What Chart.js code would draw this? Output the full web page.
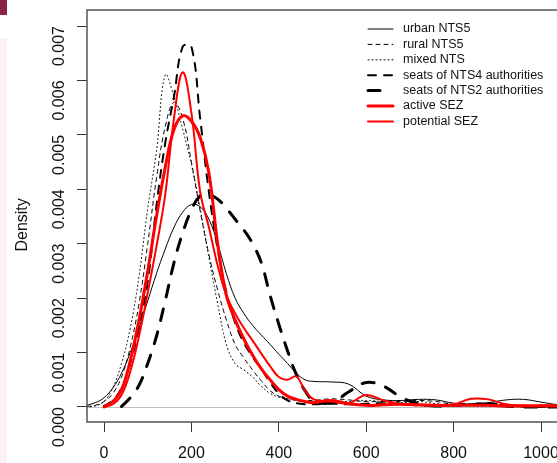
<!DOCTYPE html>
<html>
<head>
<meta charset="utf-8">
<script src="https://cdn.jsdelivr.net/npm/chart.js@4.4.0/dist/chart.umd.min.js"></script>
<style>
  html, body { margin: 0; padding: 0; background: #fff; overflow: hidden; width: 557px; height: 463px; }
  #wrap { position: relative; width: 557px; height: 463px; overflow: hidden; }
  #tab { position: absolute; left: 0; top: 0; width: 7px; height: 15px; background: #8c2341; }
  #strip { position: absolute; left: 0; top: 38px; width: 7px; height: 425px; background: #fcf0f3; }
  canvas { position: absolute; left: 0; top: 0; }
</style>
</head>
<body>
<div id="wrap">
  <div id="tab"></div>
  <div id="strip"></div>
  <canvas id="densityChart" width="600" height="463"></canvas>
</div>
<script>
/* density curves, values (density x 1000) */

const xGrid = [-40, -20, 0, 20, 40, 60, 80, 100, 120, 140, 160, 180, 200, 220, 240, 260, 280, 300, 320, 340,
  360, 380, 400, 420, 440, 460, 480, 520, 560, 600, 640, 680, 720, 760, 800, 840, 880, 920, 960, 1000, 1040, 1080];

const urbanNTS5 = [0.03, 0.08, 0.17, 0.35, 0.62, 1.0, 1.45, 1.95, 2.45, 2.9, 3.3, 3.58, 3.72, 3.68, 3.45, 3.0, 2.45, 2.0, 1.72, 1.5,
  1.32, 1.15, 0.97, 0.8, 0.62, 0.5, 0.47, 0.46, 0.42, 0.2, 0.13, 0.12, 0.14, 0.13, 0.07, 0.05, 0.08, 0.13, 0.14, 0.09, 0.04, 0.02];

const ruralNTS5 = [0.01, 0.03, 0.1, 0.25, 0.55, 1.1, 1.9, 3.0, 4.2, 5.15, 5.6, 5.3, 4.5, 3.6, 2.8, 2.15, 1.6, 1.15, 0.9, 0.68,
  0.48, 0.3, 0.2, 0.15, 0.13, 0.12, 0.12, 0.15, 0.13, 0.1, 0.1, 0.1, 0.12, 0.1, 0.05, 0.06, 0.04, 0.02, 0.01, 0.01, 0.0, 0.0];

const mixedNTS = [0.0, 0.02, 0.1, 0.35, 0.8, 1.45, 2.4, 3.65, 4.7, 6.1, 5.7, 5.1, 4.45, 3.65, 2.75, 1.9, 1.15, 0.8, 0.68, 0.55,
  0.38, 0.25, 0.18, 0.14, 0.12, 0.1, 0.1, 0.12, 0.1, 0.12, 0.1, 0.08, 0.1, 0.06, 0.03, 0.02, 0.01, 0.01, 0.0, 0.0, 0.0, 0.0];

const seatsNTS4 = [null, null, 0.02, 0.12, 0.35, 0.8, 1.45, 2.3, 3.7, 4.85, 5.7, 6.62, 6.62, 5.3, 3.95, 2.9, 2.1, 1.55, 1.18, 0.92,
  0.7, 0.45, 0.25, 0.12, 0.07, 0.05, 0.05, 0.06, 0.05, 0.06, 0.07, 0.06, 0.03, 0.02, 0.02, 0.05, 0.07, 0.04, 0.01, 0.0, 0.0, 0.0];

const seatsNTS2 = [null, null, null, null, 0.01, 0.17, 0.4, 0.8, 1.3, 1.95, 2.65, 3.2, 3.62, 3.88, 3.9, 3.82, 3.65, 3.45, 3.25, 3.0,
  2.65, 2.05, 1.52, 1.03, 0.6, 0.3, 0.12, 0.08, 0.28, 0.45, 0.38, 0.18, 0.06, 0.02, 0.03, 0.05, 0.05, 0.02, 0.0, 0.0, 0.0, 0.0];

const activeSEZ = [null, null, 0.0, 0.1, 0.32, 0.85, 1.6, 2.5, 3.5, 4.4, 5.1, 5.35, 5.25, 4.95, 4.3, 3.0, 2.05, 1.6, 1.25, 0.95,
  0.7, 0.5, 0.32, 0.2, 0.14, 0.1, 0.08, 0.12, 0.06, 0.03, 0.04, 0.05, 0.04, 0.03, 0.03, 0.03, 0.03, 0.02, 0.02, 0.02, 0.02, 0.02];

const potentialSEZ = [null, null, 0.0, 0.05, 0.22, 0.65, 1.3, 2.1, 2.95, 3.9, 5.3, 6.15, 5.4, 3.95, 3.3, 2.6, 2.05, 1.72, 1.45, 1.22,
  0.98, 0.75, 0.55, 0.5, 0.56, 0.3, 0.14, 0.1, 0.07, 0.22, 0.12, 0.05, 0.03, 0.03, 0.05, 0.15, 0.14, 0.05, 0.03, 0.03, 0.03, 0.03];

const seriesLabels = ['urban NTS5', 'rural NTS5', 'mixed NTS', 'seats of NTS4 authorities',
  'seats of NTS2 authorities', 'active SEZ', 'potential SEZ'];

const xTicks = [0, 200, 400, 600, 800, 1000];
const yTicks = [0, 0.001, 0.002, 0.003, 0.004, 0.005, 0.006, 0.007];

const FONT = '"Liberation Sans", Arial, Helvetica, sans-serif';

function toPoints(ys) {
  return xGrid.map((x, i) => ({ x: x, y: ys[i] == null ? null : ys[i] / 1000 }));
}

function line(label, ys, color, width, dash, order) {
  return {
    label: label, data: toPoints(ys), borderColor: color, backgroundColor: color,
    borderWidth: width, borderDash: dash, borderCapStyle: 'round', borderJoinStyle: 'round',
    pointRadius: 0, tension: 0.4, fill: false, spanGaps: false, order: order
  };
}

const datasets = [
  line(seriesLabels[0], urbanNTS5, '#000', 1, [], 7),
  line(seriesLabels[1], ruralNTS5, '#000', 1, [4, 4], 6),
  line(seriesLabels[2], mixedNTS, '#000', 1, [1, 3], 5),
  line(seriesLabels[3], seatsNTS4, '#000', 2, [8, 8], 4),
  line(seriesLabels[4], seatsNTS2, '#000', 3, [12, 12], 3),
  line(seriesLabels[5], activeSEZ, '#ff0000', 3, [], 2),
  line(seriesLabels[6], potentialSEZ, '#ff0000', 2, [], 1)
];

/* gray zero line like abline(h=0) */
const zeroLine = {
  id: 'zeroLine',
  beforeDatasetsDraw(chart) {
    const { ctx, chartArea, scales } = chart;
    const y = Math.round(scales.y.getPixelForValue(0)) + 0.5;
    ctx.save();
    ctx.strokeStyle = '#bebebe';
    ctx.lineWidth = 1;
    ctx.beginPath();
    ctx.moveTo(chartArea.left, y);
    ctx.lineTo(chartArea.right, y);
    ctx.stroke();
    ctx.restore();
  }
};

/* box around plot region */
const plotBox = {
  id: 'plotBox',
  afterDatasetsDraw(chart) {
    const { ctx, chartArea } = chart;
    ctx.save();
    ctx.strokeStyle = '#555';
    ctx.lineWidth = 1.5;
    ctx.strokeRect(chartArea.left, chartArea.top, chartArea.right - chartArea.left, chartArea.bottom - chartArea.top);
    ctx.restore();
  }
};

/* R style legend, no frame, top right */
const rLegend = {
  id: 'rLegend',
  afterDraw(chart) {
    const ctx = chart.ctx;
    const x0 = 368, x1 = 393, tx = 403, top = 29, step = 15.4;
    ctx.save();
    ctx.font = '12.5px ' + FONT;
    ctx.textBaseline = 'middle';
    ctx.textAlign = 'left';
    chart.data.datasets.forEach((ds, i) => {
      const y = top + i * step;
      ctx.strokeStyle = ds.borderColor;
      ctx.lineWidth = ds.borderWidth;
      ctx.lineCap = 'round';
      ctx.setLineDash(ds.borderDash);
      ctx.beginPath();
      ctx.moveTo(x0, y);
      ctx.lineTo(ds.borderWidth === 3 && ds.borderDash.length ? x0 + 12 : x1, y);
      ctx.stroke();
      ctx.setLineDash([]);
      ctx.fillStyle = '#111';
      ctx.fillText(ds.label, tx, y);
    });
    ctx.restore();
  }
};

new Chart(document.getElementById('densityChart'), {
  type: 'line',
  data: { datasets: datasets },
  plugins: [zeroLine, plotBox, rLegend],
  options: {
    responsive: false,
    devicePixelRatio: 1,
    animation: false,
    layout: { padding: { top: 10, right: 0, bottom: 0, left: 0 } },
    plugins: { legend: { display: false }, tooltip: { enabled: false } },
    scales: {
      x: {
        type: 'linear', min: -39, max: 1135,
        afterBuildTicks: s => { s.ticks = xTicks.map(v => ({ value: v })); },
        afterFit: s => { s.height = 41; s.paddingLeft = 0; s.paddingRight = 0; s.paddingTop = 0; s.paddingBottom = 0; },
        border: { display: false },
        grid: { drawOnChartArea: false, drawTicks: true, tickLength: 10, color: '#333', lineWidth: 1 },
        ticks: { color: '#111', font: { family: FONT, size: 16 }, padding: 12, maxRotation: 0, minRotation: 0,
          callback: v => String(v) }
      },
      y: {
        type: 'linear', min: -0.0002756, max: 0.007294,
        afterBuildTicks: s => { s.ticks = yTicks.map(v => ({ value: v })); },
        afterFit: s => { s.width = 87; s.paddingLeft = 0; s.paddingRight = 0; s.paddingTop = 0; s.paddingBottom = 0; },
        border: { display: false },
        grid: { drawOnChartArea: false, drawTicks: true, tickLength: 10, color: '#333', lineWidth: 1 },
        ticks: { color: '#111', font: { family: FONT, size: 16 }, padding: 17, minRotation: 90, maxRotation: 90,
          callback: v => v.toFixed(3) },
        title: { display: true, text: 'Density    ', color: '#111', font: { family: FONT, size: 16 },
          padding: { top: 13, bottom: 0 } }
      }
    }
  }
});
</script>
</body>
</html>
